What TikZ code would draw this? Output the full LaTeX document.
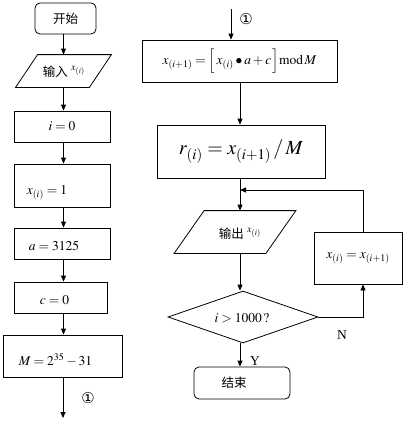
\documentclass[tikz,border=0pt]{standalone}
\usepackage{mathptmx}
\usepackage{fontspec}
\setmainfont{Liberation Serif}
\newfontfamily\cjk{Noto Sans CJK SC}
\newfontfamily\dejavu{DejaVu Sans}
\usetikzlibrary{shapes.geometric,arrows.meta}
\begin{document}
\begin{tikzpicture}[x=1pt,y=-1pt,
  line width=0.8pt,
  every node/.style={inner sep=0pt, font=\fontsize{13.5}{15}\selectfont},
  box/.style={draw, rectangle},
  term/.style={draw, rectangle, rounded corners=5pt},
  arr/.style={-{Triangle[length=6pt,width=5pt]}},
  circ/.style={font=\dejavu\fontsize{15}{16}\selectfont},
  zh/.style={font=\cjk\fontsize{12.5}{14}\selectfont}]
\useasboundingbox (0,0) rectangle (405,423);
% left column
\node[term, minimum width=61, minimum height=31, zh] (start) at (65.5,18.5) {开始};
\node[minimum width=73, minimum height=32] (in) at (63.5,71) {};
\draw ([xshift=11]in.north west) -- ([xshift=11]in.north east) -- ([xshift=-11]in.south east) -- ([xshift=-11]in.south west) -- cycle;
\node[anchor=center] (intext) at (64,72) {{\cjk\fontsize{12.5}{14}\selectfont 输入} $^{x_{(i)}}$};
\node[box, minimum width=96, minimum height=31] (i0) at (62,126.5) {$i=0$};
\node[box, minimum width=96, minimum height=43, label={[xshift=-15pt,yshift=-7pt]center:$x_{(i)}=1$}] (x1) at (62,185.5) {};
\node[box, minimum width=96, minimum height=31, label={[xshift=-8pt,yshift=-2pt]center:$a=3125$}] (a) at (62,243.5) {};
\node[box, minimum width=93, minimum height=31, label={[xshift=-6pt,yshift=-3pt]center:$c=0$}] (c) at (60.5,297.5) {};
\node[box, minimum width=119, minimum height=42, label={[xshift=-7pt,yshift=-4pt]center:$M=2^{35}-31$}] (M) at (62.5,356) {};
\coordinate (c1) at (63,418);
\node[circ] (lab1) at (88,398) {①};
\draw[arr] (in.north |- start.south) -- (in.north);
\draw[arr] (in.south) -- (in.south |- i0.north);
\draw[arr] (in.south |- i0.south) -- (in.south |- x1.north);
\draw[arr] (in.south |- x1.south) -- (in.south |- a.north);
\draw[arr] (in.south |- a.south) -- (in.south |- c.north);
\draw[arr] (in.south |- c.south) -- (in.south |- M.north);
\draw[arr] (c1 |- M.south) -- (c1);
% right column
\coordinate (c2) at (231,9);
\node[circ] (lab2) at (246,19) {①};
\node[box, minimum width=195, minimum height=42] (f1) at (239.5,61) {$x_{(i+1)}=\Big[\,x_{(i)}\bullet a+c\,\Big]\mathrm{mod}\,M$};
\node[box, minimum width=168, minimum height=53, font=\fontsize{20}{24}\selectfont] (f2) at (241,151.5) {$r_{(i)}=x_{(i+1)}\,/\,M$};
\coordinate (j) at (240,190);
\node[minimum width=91, minimum height=42] (out) at (235,232) {};
\draw ([xshift=15]out.north west) -- ([xshift=15]out.north east) -- ([xshift=-15]out.south east) -- ([xshift=-15]out.south west) -- cycle;
\node (outtext) at (240,234) {{\cjk\fontsize{12.5}{14}\selectfont 输出} $^{x_{(i)}}$};
\node[diamond, draw, aspect=3, minimum width=150, minimum height=52] (dia) at (243,317) {};
\node (diatext) at (242,318) {$i>1000\,?$};
\node[term, minimum width=96, minimum height=32, zh] (end) at (242,383) {\hspace*{-16pt}结束};
\node[box, minimum width=88, minimum height=52] (x3) at (358,258) {$x_{(i)}=x_{(i+1)}$};
\coordinate (cr) at (363,317);
\coordinate (ct) at (363,190);
\node (N) at (342,335) {N};
\node (Y) at (255,361) {Y};
\draw[arr] (c2) -- (c2 |- f1.north);
\draw[arr] (j |- f1.south) -- (j |- f2.north);
\draw[arr] (j |- f2.south) -- (j |- out.north);
\draw[arr] (j |- out.south) -- (j |- dia.north);
\draw[arr] (j |- dia.south) -- (j |- end.north);
\draw[arr] (dia.east) -- (cr) -- (cr |- x3.south);
\draw[arr] (cr |- x3.north) -- (ct) -- (j);
\end{tikzpicture}
\end{document}
